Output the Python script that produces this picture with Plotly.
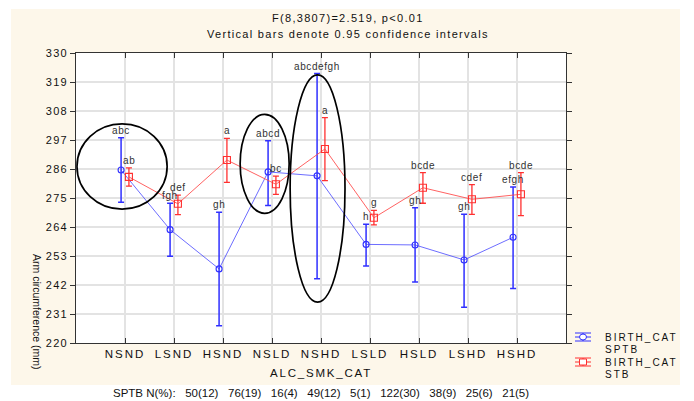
import plotly.graph_objects as go

categories = ["NSND", "LSND", "HSND", "NSLD", "NSHD", "LSLD", "HSLD", "LSHD", "HSHD"]

sptb_mean = [285.6, 263.0, 248.1, 284.9, 283.4, 257.4, 257.2, 251.5, 260.1]
sptb_upper = [297.9, 273.0, 269.6, 296.7, 322.2, 265.0, 271.3, 268.8, 279.2]
sptb_lower = [273.4, 252.9, 226.5, 272.2, 244.4, 249.2, 243.1, 233.6, 240.7]
sptb_letters = ["abc", "fgh", "gh", "abcd", "abcdefgh", "h", "gh", "gh", "efgh"]

stb_mean = [283.0, 272.8, 289.4, 280.2, 293.6, 267.5, 278.9, 274.5, 276.4]
stb_upper = [286.4, 276.1, 297.6, 283.3, 305.5, 270.3, 284.6, 280.1, 284.6]
stb_lower = [279.5, 268.7, 280.9, 276.4, 281.6, 264.8, 273.0, 268.8, 268.3]
stb_letters = ["ab", "def", "a", "bc", "a", "g", "bcde", "cdef", "bcde"]

sptb_n = ["50(12)", "76(19)", "16(4)", "49(12)", "5(1)", "122(30)", "38(9)", "25(6)", "21(5)"]

y_ticks = list(range(220, 331, 11))

series_names = [["BIRTH_CAT", "SPTB"], ["BIRTH_CAT", "STB"]]
series_colors = ["#3030ff", "#ff3030"]

# ellipses highlighting groups (x in category index units, y in data units)
ellipses = [
    (-0.98, 270.8, 0.86, 303.1),
    (2.35, 269.2, 3.35, 306.7),
    (3.37, 235.5, 4.49, 321.7),
]

offset = 0.08
idx = list(range(len(categories)))
xb = [i - offset for i in idx]
xr = [i + offset for i in idx]

FONT = "Liberation Sans, Arial, sans-serif"


def spaced(t, px):
    return f'<span style="letter-spacing:{px}px">{t}</span>'


# screen-pixel helpers for decorations outside the data area (plot area 76..566 x 53..343)
def px_x(p):
    return (p - 76) / 490


def px_y(p):
    return (343 - p) / 290


fig = go.Figure()
fig.add_trace(go.Scatter(
    x=xb, y=sptb_mean, mode="lines+markers", name="BIRTH_CAT SPTB",
    line=dict(color="rgba(60,60,255,0.75)", width=1),
    marker=dict(symbol="circle-open", size=6, color=series_colors[0], line=dict(width=1.1)),
    error_y=dict(type="data", symmetric=False,
                 array=[u - m for u, m in zip(sptb_upper, sptb_mean)],
                 arrayminus=[m - l for m, l in zip(sptb_mean, sptb_lower)],
                 color=series_colors[0], thickness=1.5, width=3),
))
fig.add_trace(go.Scatter(
    x=xr, y=stb_mean, mode="lines+markers", name="BIRTH_CAT STB",
    line=dict(color="rgba(255,70,70,0.85)", width=1),
    marker=dict(symbol="square-open", size=7, color=series_colors[1], line=dict(width=1.1)),
    error_y=dict(type="data", symmetric=False,
                 array=[u - m for u, m in zip(stb_upper, stb_mean)],
                 arrayminus=[m - l for m, l in zip(stb_mean, stb_lower)],
                 color=series_colors[1], thickness=1.3, width=3),
))

annotations = []
for x, u, t in zip(xb, sptb_upper, sptb_letters):
    annotations.append(dict(x=x, y=u, text=spaced(t, 0.6), showarrow=False, yanchor="bottom",
                            xref="x", yref="y", font=dict(size=10, color="#333", family=FONT)))
for x, u, t in zip(xr, stb_upper, stb_letters):
    annotations.append(dict(x=x, y=u, text=spaced(t, 0.6), showarrow=False, yanchor="bottom",
                            xref="x", yref="y", font=dict(size=10, color="#333", family=FONT)))

annotations += [
    dict(x=0.555, y=1.0, xref="paper", yref="paper", xanchor="center", yanchor="bottom", showarrow=False,
         yshift=27, text=spaced("F(8,3807)=2.519, p<0.01", 1.3), font=dict(size=11, color="#111", family=FONT)),
    dict(x=0.555, y=1.0, xref="paper", yref="paper", xanchor="center", yanchor="bottom", showarrow=False,
         yshift=11, text=spaced("Vertical bars denote 0.95 confidence intervals", 1.3),
         font=dict(size=11, color="#111", family=FONT)),
    dict(x=px_x(37), y=px_y(312), xref="paper", yref="paper", xanchor="center", yanchor="middle",
         showarrow=False, textangle=90,
         text="Arm circumference (mm)", font=dict(size=10.5, color="#111", family=FONT)),
    dict(x=0.5, y=0, xref="paper", yref="paper", xanchor="center", yanchor="top", showarrow=False, yshift=-22,
         text=spaced("ALC_SMK_CAT", 1.8), font=dict(size=11.5, color="#111", family=FONT)),
    dict(x=0.5, y=0, xref="paper", yref="paper", xanchor="center", yanchor="top", showarrow=False, yshift=-42,
         text="SPTB N(%):   " + "   ".join(sptb_n), font=dict(size=11.5, color="#111", family=FONT)),
]

shapes = [
    dict(type="rect", xref="paper", yref="paper", x0=px_x(11), x1=px_x(680),
         y0=px_y(385), y1=px_y(9), fillcolor="#fdf7ea", line=dict(width=0), layer="below"),
    dict(type="rect", xref="paper", yref="paper", x0=0, x1=1, y0=0, y1=1,
         fillcolor="white", line=dict(width=0), layer="below"),
]
for x0, y0, x1, y1 in ellipses:
    shapes.append(dict(type="circle", xref="x", yref="y", x0=x0, y0=y0, x1=x1, y1=y1,
                       line=dict(color="black", width=1.7), layer="above"))

# manual legend (symbol + two text lines), placed like the original
legend_centers = [[337, 349], [362, 374]]
for k, (lines, col) in enumerate(zip(series_names, series_colors)):
    yc = legend_centers[k][0]
    xl, xrr, xc = 575, 591, 583
    for dy in (-4, 0, 4):
        shapes.append(dict(type="line", xref="paper", yref="paper", x0=px_x(xl), x1=px_x(xrr),
                           y0=px_y(yc + dy), y1=px_y(yc + dy), line=dict(color=col, width=1)))
    shapes.append(dict(type="line", xref="paper", yref="paper", x0=px_x(xc), x1=px_x(xc),
                       y0=px_y(yc - 4), y1=px_y(yc + 4), line=dict(color=col, width=1)))
    shapes.append(dict(type="circle" if k == 0 else "rect", xref="paper", yref="paper",
                       x0=px_x(xc - 3.5), x1=px_x(xc + 3.5), y0=px_y(yc - 3), y1=px_y(yc + 3),
                       fillcolor="white", line=dict(color=col, width=1)))
    for ln, cy in zip(lines, legend_centers[k]):
        annotations.append(dict(x=px_x(604), y=px_y(cy), xref="paper", yref="paper",
                                xanchor="left", yanchor="middle", align="left", showarrow=False,
                                borderpad=0,
                                text=spaced(ln, 2), font=dict(size=10, color="#111", family=FONT)))

# the page body adds an 8px offset, so the figure is sized 8px smaller than the window
fig.update_layout(
    width=686, height=393,
    margin=dict(l=68, r=128, t=45, b=58),
    paper_bgcolor="white", plot_bgcolor="white",
    font=dict(family=FONT, size=11, color="#111"),
    showlegend=False,
    annotations=annotations,
    shapes=shapes,
)
fig.update_xaxes(range=[-1, 9], tickvals=idx, ticktext=[spaced(c, 2) for c in categories], showgrid=True,
                 gridcolor="#e3e3e3", gridwidth=1.5, zeroline=False,
                 showline=True, linecolor="#333", linewidth=1, mirror="ticks",
                 ticks="inside", ticklen=5, tickcolor="#333",
                 tickfont=dict(size=11.5, color="#111", family=FONT))
fig.update_yaxes(range=[220, 330], tickvals=y_ticks, ticktext=[spaced(str(v), 1.2) for v in y_ticks],
                 showgrid=True, gridcolor="#e3e3e3", gridwidth=1.5, zeroline=False,
                 showline=True, linecolor="#333", linewidth=1, mirror="ticks",
                 ticks="outside", ticklen=5, tickcolor="#333",
                 tickfont=dict(size=11, color="#111", family=FONT))

fig.write_html("out.html")
